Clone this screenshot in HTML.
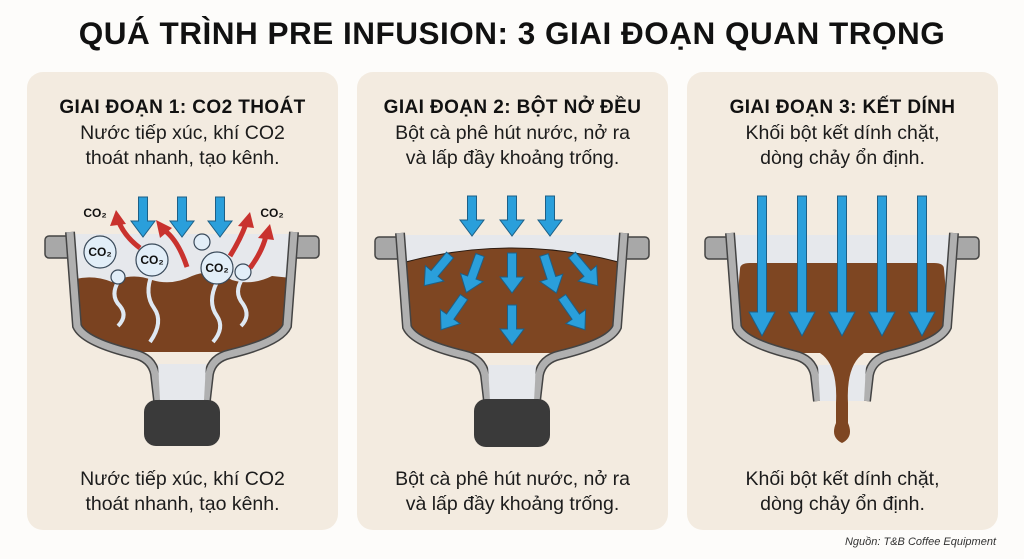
<!DOCTYPE html>
<html><head><meta charset="utf-8">
<style>
html,body{margin:0;padding:0;background:#fdfcfa;}
body{width:1024px;height:559px;position:relative;overflow:hidden;font-family:"Liberation Sans","DejaVu Sans",sans-serif;color:#1a1a1a;}
.title{position:absolute;left:0;top:15px;width:1024px;text-align:center;font-weight:bold;font-size:31.5px;letter-spacing:0.5px;color:#111;}
.panel{position:absolute;top:72px;width:311px;height:458px;background:#f3ebe0;border-radius:16px;}
.h{position:absolute;top:97px;width:311px;text-align:center;font-weight:bold;font-size:19px;letter-spacing:0.4px;color:#111;}
.t{position:absolute;width:311px;text-align:center;font-size:19.5px;line-height:25px;color:#1c1c1c;}
.src{position:absolute;right:28px;top:536px;font-size:11px;font-style:italic;color:#333;}
svg{position:absolute;left:0;top:0;}
</style></head><body>
<div class="title">QUÁ TRÌNH PRE INFUSION: 3 GIAI ĐOẠN QUAN TRỌNG</div>
<div class="panel" style="left:27px"></div>
<div class="panel" style="left:357px"></div>
<div class="panel" style="left:687px"></div>
<div class="h" style="left:27px">GIAI ĐOẠN 1: CO2 THOÁT</div>
<div class="h" style="left:357px">GIAI ĐOẠN 2: BỘT NỞ ĐỀU</div>
<div class="h" style="left:687px">GIAI ĐOẠN 3: KẾT DÍNH</div>
<div class="t" style="left:27px;top:121px">Nước tiếp xúc, khí CO2<br>thoát nhanh, tạo kênh.</div>
<div class="t" style="left:357px;top:121px">Bột cà phê hút nước, nở ra<br>và lấp đầy khoảng trống.</div>
<div class="t" style="left:687px;top:121px">Khối bột kết dính chặt,<br>dòng chảy ổn định.</div>
<div class="t" style="left:27px;top:467px">Nước tiếp xúc, khí CO2<br>thoát nhanh, tạo kênh.</div>
<div class="t" style="left:357px;top:467px">Bột cà phê hút nước, nở ra<br>và lấp đầy khoảng trống.</div>
<div class="t" style="left:687px;top:467px">Khối bột kết dính chặt,<br>dòng chảy ổn định.</div>
<div class="src">Nguồn: T&amp;B Coffee Equipment</div>

<svg width="1024" height="559" viewBox="0 0 1024 559">
<defs>
<path id="a" d="M-4.5 0H4.5V24H12L0 40L-12 24H-4.5Z" fill="#2a9fdb" stroke="#1d5f86" stroke-width="1"/>
<path id="al" d="M-4.5 0H4.5V116H13L0 140L-13 116H-4.5Z" fill="#2a9fdb" stroke="#1d5f86" stroke-width="1"/>
<clipPath id="in"><path d="M-108 2 L-102 92 Q-96 108 -45 120 L45 120 Q96 108 102 92 L108 2 Z"/></clipPath>
<g id="basket">
 <rect x="-137" y="4" width="30" height="22" rx="4" fill="#a8a8a8" stroke="#444" stroke-width="1.5"/>
 <rect x="107" y="4" width="30" height="22" rx="4" fill="#a8a8a8" stroke="#444" stroke-width="1.5"/>
 <path d="M-108 2 L-102 92 Q-96 108 -45 120 L45 120 Q96 108 102 92 L108 2 Z" fill="#e6e8ec"/>
</g>
<g id="wall">
 <path d="M-112 0 L-105 94 Q-98 110 -48 122 Q-30 126 -27 142 L-24 168 M112 0 L105 94 Q98 110 48 122 Q30 126 27 142 L24 168" fill="none" stroke="#444" stroke-width="10"/>
 <path d="M-112 0 L-105 94 Q-98 110 -48 122 Q-30 126 -27 142 L-24 168 M112 0 L105 94 Q98 110 48 122 Q30 126 27 142 L24 168" fill="none" stroke="#b0b0b0" stroke-width="7"/>
 <path d="M-24 132 L24 132 L22 168 L-22 168 Z" fill="#e6e8ec"/>
</g>
</defs>

<!-- Panel 1 -->
<g transform="translate(182,232)">
 <use href="#basket"/>
 <g clip-path="url(#in)">
  <path d="M-110 48 Q-90 42 -70 50 Q-50 40 -30 48 Q-10 54 10 44 Q30 36 50 48 Q70 54 90 44 L110 46 L110 130 L-110 130Z" fill="#7a4220"/>
 </g>
 <use href="#wall"/>
 <rect x="-38" y="168" width="76" height="46" rx="12" fill="#3a3a3a"/>
 <g fill="none" stroke="#dfe8f2" stroke-width="4">
  <path d="M-64 50 q-8 14 2 24 q8 10 -2 20"/>
  <path d="M-30 42 q-8 20 2 34 q10 14 -4 34"/>
  <path d="M35 50 q-10 20 0 34 q8 12 -4 26"/>
  <path d="M61 46 q-10 14 0 26 q8 12 -2 22"/>
 </g>
 <g fill="#e2eef8" stroke="#3a4a5a" stroke-width="1.2">
  <circle cx="-82" cy="20" r="16"/><circle cx="-30" cy="28" r="16"/><circle cx="-64" cy="45" r="7"/>
  <circle cx="35" cy="36" r="16"/><circle cx="20" cy="10" r="8"/><circle cx="61" cy="40" r="8"/>
 </g>
 <g font-family="Liberation Sans,sans-serif" font-weight="bold" font-size="12" fill="#111" text-anchor="middle">
  <text x="-82" y="24">CO₂</text><text x="-30" y="32">CO₂</text><text x="35" y="40">CO₂</text>
  <text x="-87" y="-15">CO₂</text><text x="90" y="-15">CO₂</text>
 </g>
 <g fill="none" stroke="#c9322e" stroke-width="5">
  <path d="M-42 16 Q-58 4 -64 -12"/><path d="M5 35 Q-4 8 -18 -2"/>
  <path d="M48 24 Q58 8 64 -8"/><path d="M68 36 Q80 20 84 4"/>
 </g>
 <g fill="#c9322e">
  <path d="M-66 -22 L-56 -8 L-72 -6Z"/><path d="M-26 -12 L-10 -4 L-22 6Z"/>
  <path d="M68 -20 L72 -4 L56 -6Z"/><path d="M88 -8 L92 8 L76 6Z"/>
 </g>
 <use href="#a" x="-39" y="-35"/><use href="#a" x="0" y="-35"/><use href="#a" x="38" y="-35"/>
</g>

<!-- Panel 2 -->
<g transform="translate(512,233)">
 <use href="#basket"/>
 <g clip-path="url(#in)">
  <path d="M-110 30 Q0 0 110 30 L110 130 L-110 130Z" fill="#7e4622" stroke="#2a1a10" stroke-width="1"/>
 </g>
 <use href="#wall"/>
 <rect x="-38" y="166" width="76" height="48" rx="12" fill="#3a3a3a"/>
 <use href="#a" x="-40" y="-37"/><use href="#a" x="0" y="-37"/><use href="#a" x="38" y="-37"/>
 <use href="#a" transform="translate(-62,22) rotate(40)"/>
 <use href="#a" transform="translate(-32,22) rotate(20)"/>
 <use href="#a" transform="translate(0,20)"/>
 <use href="#a" transform="translate(32,22) rotate(-18)"/>
 <use href="#a" transform="translate(60,22) rotate(-40)"/>
 <use href="#a" transform="translate(-48,64) rotate(35)"/>
 <use href="#a" transform="translate(0,72)"/>
 <use href="#a" transform="translate(50,64) rotate(-35)"/>
</g>

<!-- Panel 3 -->
<g transform="translate(842,233)">
 <use href="#basket"/>
 <g clip-path="url(#in)">
  <path d="M-102 36 Q-102 30 -92 30 L92 30 Q102 30 102 36 L110 130 L-110 130Z" fill="#7e4622"/>
 </g>
 <use href="#wall"/>
 <path d="M-22 120 Q-4 132 -6 170 L-6 190 Q-12 204 0 210 Q12 204 6 190 L6 170 Q4 132 22 120Z" fill="#7e4622"/>
 <use href="#al" x="-80" y="-37"/><use href="#al" x="-40" y="-37"/><use href="#al" x="0" y="-37"/>
 <use href="#al" x="40" y="-37"/><use href="#al" x="80" y="-37"/>
</g>
</svg>
</body></html>
